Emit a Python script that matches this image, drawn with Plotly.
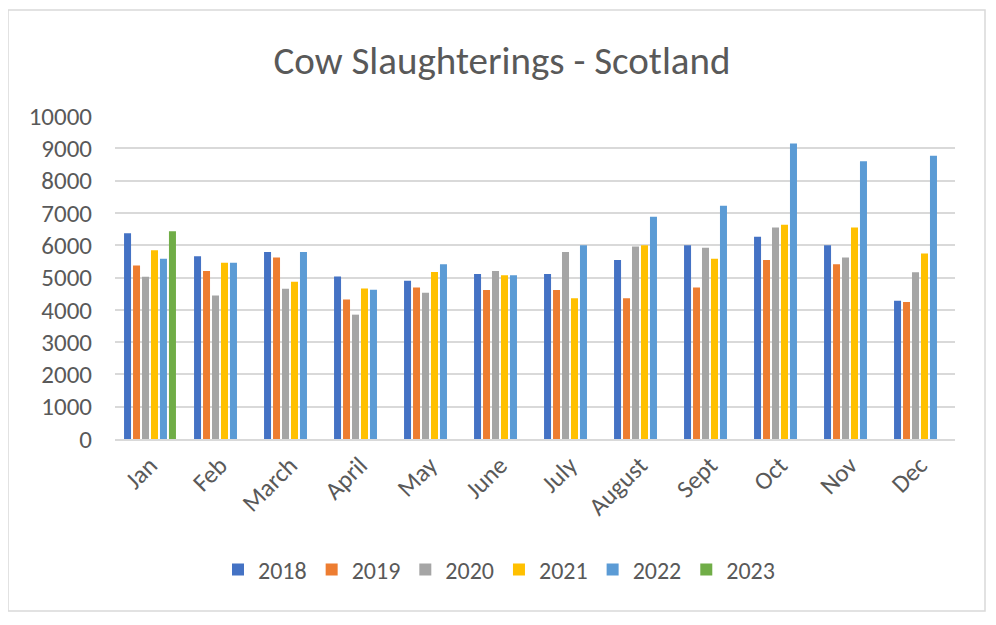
import plotly.graph_objects as go

months = ["Jan", "Feb", "March", "April", "May", "June",
          "July", "August", "Sept", "Oct", "Nov", "Dec"]

y2018 = [6370, 5660, 5790, 5030, 4900, 5110, 5110, 5540, 6000, 6260, 6000, 4280]
y2019 = [5370, 5200, 5620, 4320, 4690, 4610, 4610, 4360, 4690, 5540, 5410, 4240]
y2020 = [5020, 4440, 4650, 3850, 4530, 5200, 5790, 5960, 5920, 6550, 5620, 5160]
y2021 = [5840, 5460, 4870, 4660, 5170, 5070, 4360, 6000, 5580, 6630, 6550, 5740]
y2022 = [5580, 5460, 5790, 4620, 5410, 5070, 6000, 6880, 7220, 9150, 8600, 8770]
y2023 = [6430, None, None, None, None, None, None, None, None, None, None, None]

series = [
    ("2018", y2018, "#4472C4"),
    ("2019", y2019, "#ED7D31"),
    ("2020", y2020, "#A5A5A5"),
    ("2021", y2021, "#FFC000"),
    ("2022", y2022, "#5B9BD5"),
    ("2023", y2023, "#70AD47"),
]

FONT = "Calibri, Carlito, Noto Sans, sans-serif"
GREY = "#595959"

fig = go.Figure()
for name, vals, color in series:
    fig.add_trace(go.Bar(x=months, y=vals, name=name, marker_color=color,
                         marker_line_width=0))

# page body has an 8px margin, so work in canvas coords = screen - 8
OFF = 8
W, H = 996 - OFF, 625 - OFF
L, R, T, B = 115 - OFF, 955 - OFF, 116 - OFF, 439 - OFF
pw, ph = R - L, B - T


def px_x(x):
    return (x - OFF - L) / pw


def px_y(y):
    return (B - (y - OFF)) / ph


fig.update_layout(
    width=W, height=H,
    margin=dict(l=L, r=W - R, t=T, b=H - B),
    paper_bgcolor="white", plot_bgcolor="white",
    barmode="group", bargap=0.23, bargroupgap=0.22,
    font=dict(family=FONT, color=GREY, size=22),
    title=dict(text="Cow Slaughterings - Scotland", x=0.5, xanchor="center",
               y=1 - (60 - OFF) / H, yanchor="middle",
               font=dict(size=39, color=GREY, family=FONT)),
    showlegend=True,
    legend=dict(orientation="h", x=px_x(499), xanchor="center",
                y=px_y(570), yanchor="middle",
                font=dict(size=24, color=GREY), itemwidth=30,
                traceorder="normal"),
    shapes=[dict(type="rect", xref="paper", yref="paper",
                 x0=px_x(8), x1=px_x(985), y0=px_y(611), y1=px_y(10),
                 line=dict(color="#D9D9D9", width=1.5), layer="below")],
)

fig.update_xaxes(tickangle=-45, showgrid=False, showline=True,
                 linecolor="#D9D9D9", linewidth=1.5,
                 tickfont=dict(size=25, color=GREY), ticks="")
fig.update_yaxes(range=[0, 10000], dtick=1000, showgrid=True,
                 gridcolor="#D9D9D9", gridwidth=1.5, zeroline=False,
                 showline=False, tickformat="d",
                 ticks="outside", ticklen=17, tickcolor="rgba(0,0,0,0)",
                 tickfont=dict(size=25, color=GREY))

fig.write_html("out.html")
